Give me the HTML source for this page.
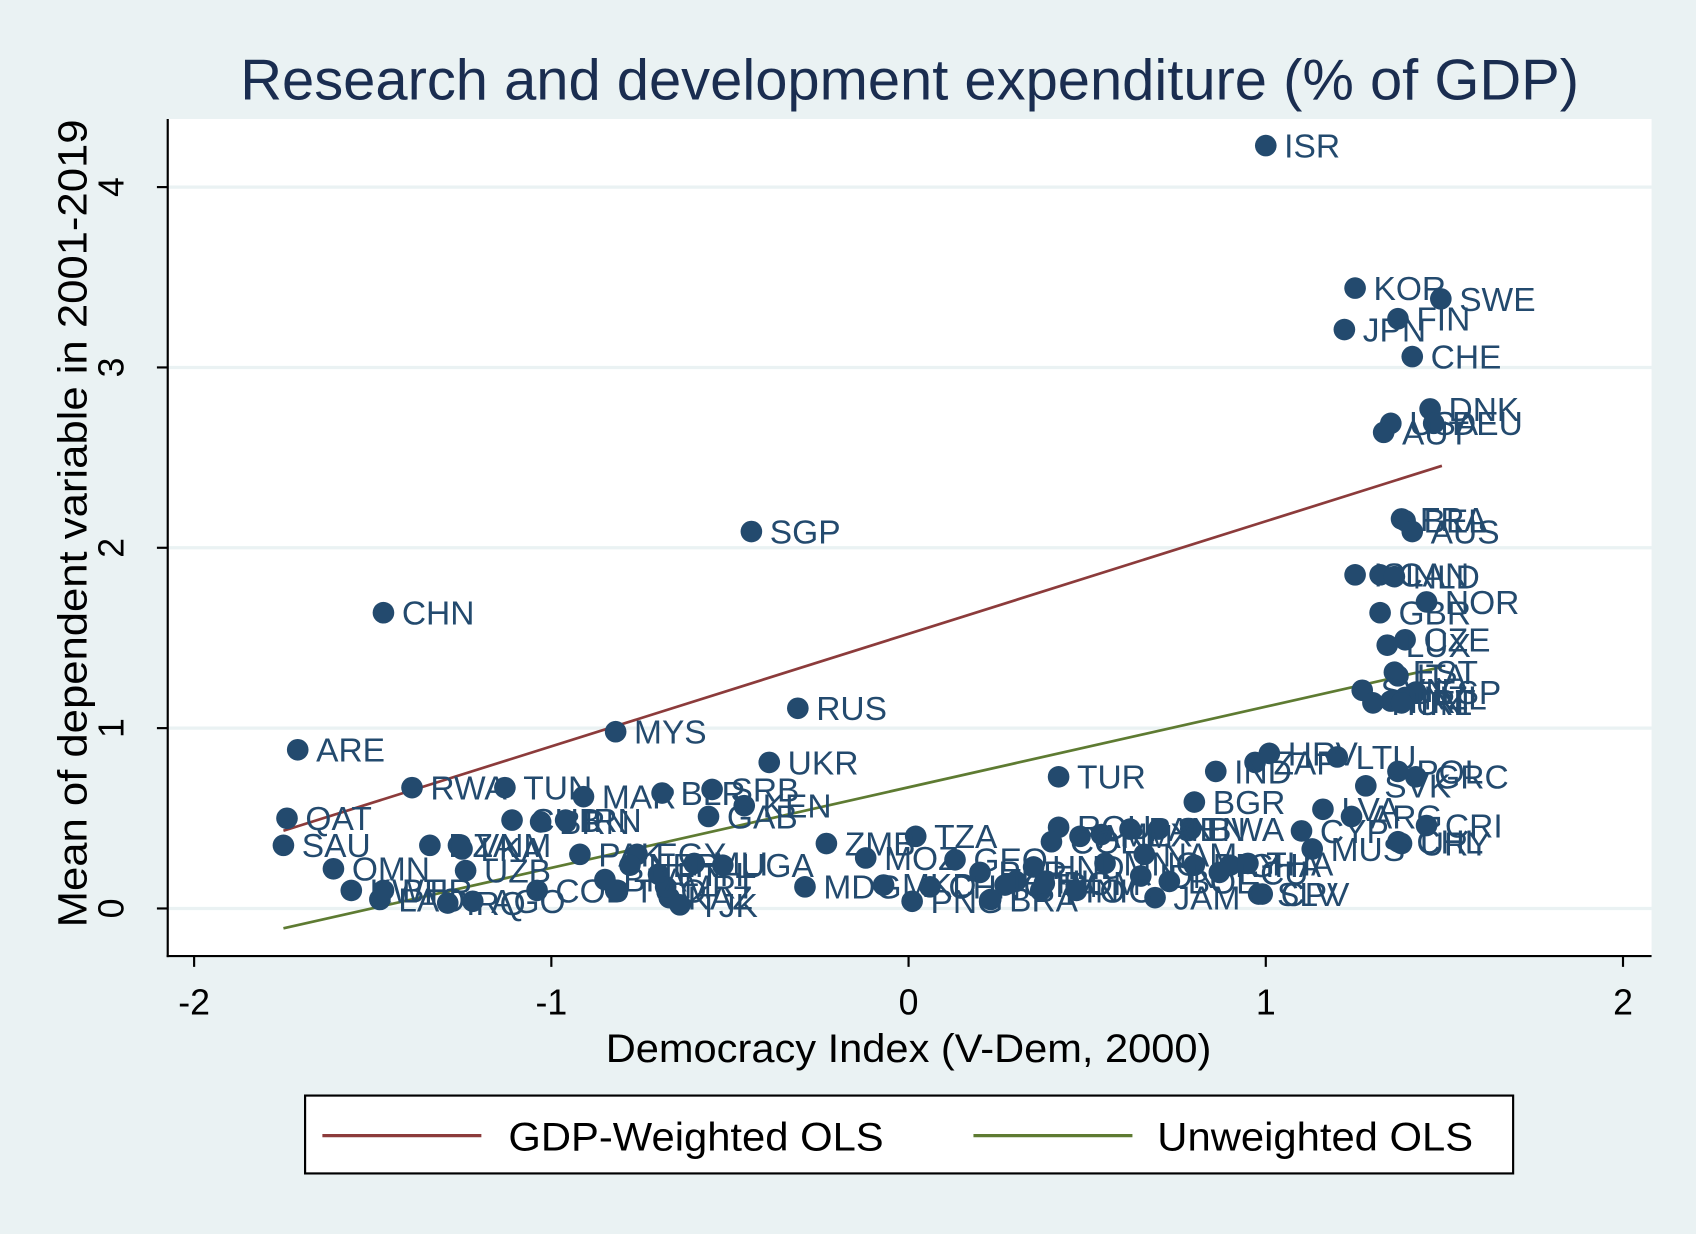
<!DOCTYPE html>
<html><head><meta charset="utf-8">
<style>
html,body{margin:0;padding:0;background:#EAF2F3;}
svg{display:block;font-family:"Liberation Sans",Arial,sans-serif;}
</style></head>
<body>
<svg id="chart" width="1696" height="1234" viewBox="0 0 1568 1141" xmlns="http://www.w3.org/2000/svg">
<rect x="0" y="0" width="1568" height="1141" fill="#EAF2F3"/>
<rect x="155" y="110" width="1372" height="774" fill="#ffffff"/>
<g id="grid"></g>
<g id="lines"></g>
<g id="points"></g>
<g id="axes"></g>
<text x="841" y="92" text-anchor="middle" font-size="53" fill="#1a2d50" textLength="1238" lengthAdjust="spacingAndGlyphs">Research and development expenditure (% of GDP)</text>
<text x="840" y="982" text-anchor="middle" font-size="37" fill="#000" textLength="560" lengthAdjust="spacingAndGlyphs">Democracy Index (V-Dem, 2000)</text>
<text transform="translate(80,484) rotate(-90)" text-anchor="middle" font-size="38" fill="#000" textLength="747" lengthAdjust="spacingAndGlyphs">Mean of dependent variable in 2001-2019</text>
<g>
<rect x="282" y="1013" width="1117" height="72" fill="#fff" stroke="#000" stroke-width="2"/>
<line x1="298" y1="1050" x2="445" y2="1050" stroke="#8C3B3B" stroke-width="3"/>
<text x="470" y="1064" font-size="37" textLength="347" lengthAdjust="spacingAndGlyphs">GDP-Weighted OLS</text>
<line x1="900" y1="1050" x2="1047" y2="1050" stroke="#5E7B32" stroke-width="3"/>
<text x="1070" y="1064" font-size="37" textLength="292" lengthAdjust="spacingAndGlyphs">Unweighted OLS</text>
</g>
</svg>
<script>
const labels=["ISR","KOR","SWE","FIN","JPN","CHE","DNK","USA","DEU","AUT","FRA","BEL","AUS","SGP","ISL","CAN","NLD","NOR","GBR","CHN","CZE","LUX","EST","ITA","SVN","ESP","NZL","HUN","PRT","IRL","RUS","MYS","ARE","UKR","HRV","LTU","ZAF","IND","POL","GRC","TUR","SVK","RWA","TUN","MAR","BLR","SRB","KEN","GAB","BGR","LVA","ARG","CRI","QAT","CUB","BRN","IRN","SAU","DZA","VNM","LKA","PAK","BWA","SEN","ROU","MEX","CYP","MUS","URY","CHL","OMN","KWT","LAO","BHR","IRQ","AGO","UZB","COD","TGO","EGY","KAZ","TJK","ETH","MLI","MRT","NER","BFA","UGA","TZA","MOZ","ZMB","MDG","MKD","GEO","PER","PHL","TTO","ARM","MNG","PAN","NAM","BOL","PRY","GHA","THA","SLV","PNG","CHN2","IDN","JAM","ECU","COL","BRA","GTM","HND","DOM","NIC","CPV"];
const xVals=[1.00,1.25,1.49,1.37,1.22,1.41,1.46,1.35,1.47,1.33,1.38,1.39,1.41,-0.44,1.25,1.32,1.36,1.45,1.32,-1.47,1.39,1.34,1.36,1.37,1.27,1.42,1.39,1.30,1.35,1.38,-0.31,-0.82,-1.71,-0.39,1.01,1.20,0.97,0.86,1.37,1.42,0.42,1.28,-1.39,-1.13,-0.91,-0.69,-0.55,-0.46,-0.56,0.80,1.16,1.24,1.45,-1.74,-1.11,-1.03,-0.96,-1.75,-1.34,-1.26,-1.25,-0.92,0.79,0.70,0.42,0.54,1.10,1.13,1.38,1.37,-1.61,-1.56,-1.48,-1.47,-1.29,-1.22,-1.24,-1.04,-0.82,-0.76,-0.67,-0.64,-0.70,-0.60,-0.68,-0.78,-0.85,-0.52,0.02,-0.12,-0.23,-0.29,-0.07,0.13,0.20,0.30,0.37,0.48,0.55,0.62,0.66,0.73,0.80,0.90,0.95,0.98,0.01,0.06,0.65,0.69,0.87,0.40,0.23,0.27,0.35,0.38,0.47,0.99];
const yVals=[4.23,3.44,3.38,3.27,3.21,3.06,2.77,2.69,2.69,2.64,2.16,2.15,2.09,2.09,1.85,1.85,1.84,1.70,1.64,1.64,1.49,1.46,1.31,1.29,1.21,1.20,1.17,1.14,1.15,1.14,1.11,0.98,0.88,0.81,0.86,0.84,0.81,0.76,0.76,0.73,0.73,0.68,0.67,0.67,0.62,0.64,0.66,0.57,0.51,0.59,0.55,0.51,0.46,0.50,0.49,0.48,0.49,0.35,0.35,0.35,0.33,0.30,0.44,0.44,0.45,0.41,0.43,0.33,0.36,0.37,0.22,0.10,0.05,0.10,0.03,0.04,0.21,0.10,0.10,0.30,0.06,0.02,0.19,0.25,0.12,0.24,0.16,0.24,0.40,0.28,0.36,0.12,0.13,0.27,0.20,0.15,0.10,0.40,0.25,0.44,0.30,0.15,0.24,0.24,0.25,0.08,0.04,0.12,0.18,0.06,0.20,0.37,0.05,0.13,0.23,0.14,0.10,0.08];
const yTicks=[0,1,2,3,4];
const xTicks=[-2,-1,0,1,2];
const xRange=[-1.75,1.493];
const wCoef=[1.523,0.624];
const uCoef=[0.672,0.447];

const NS="http://www.w3.org/2000/svg";
const X=v=>840+v*330.3;
const Y=v=>840-v*166.75;
function mk(tag,attrs,parent){const e=document.createElementNS(NS,tag);for(const k in attrs)e.setAttribute(k,attrs[k]);parent.appendChild(e);return e;}
const grid=document.getElementById('grid'),axes=document.getElementById('axes'),lines=document.getElementById('lines'),pts=document.getElementById('points');
yTicks.forEach(t=>{
  const g=mk('line',{x1:155,x2:1527,y1:Y(t),y2:Y(t),stroke:'#EAF2F3','stroke-width':3},grid);
  
  
  const tk=mk('line',{x1:145,x2:155,y1:Y(t),y2:Y(t),stroke:'#000','stroke-width':2},axes);
  
  
  const lb=mk('text',{transform:`translate(114,${Y(t)}) rotate(-90)`,'text-anchor':'middle','font-size':33},axes);
  lb.textContent=t;
  
  
});
xTicks.forEach(t=>{
  const tk=mk('line',{x1:X(t),x2:X(t),y1:884,y2:894,stroke:'#000','stroke-width':2},axes);
  
  
  const lb=mk('text',{x:X(t),y:938,'text-anchor':'middle','font-size':33},axes);
  lb.textContent=t;
  
  
});
const ax1=mk('line',{x1:155,x2:155,y1:110,y2:885,stroke:'#000','stroke-width':2},axes);


const ax2=mk('line',{x1:154,x2:1527,y1:884,y2:884,stroke:'#000','stroke-width':2},axes);


[[wCoef,'#8C3B3B','gdp-weighted-ols-line'],[uCoef,'#5E7B32','unweighted-ols-line']].forEach(([c,col,n])=>{
  const l=mk('line',{x1:X(xRange[0]),y1:Y(c[0]+c[1]*xRange[0]),x2:X(xRange[1]),y2:Y(c[0]+c[1]*xRange[1]),stroke:col,'stroke-width':2.5},lines);
  
  
});
labels.forEach((lab,i)=>{
  const name=lab.replace(/\d/g,'');
  const c=mk('circle',{cx:X(xVals[i]),cy:Y(yVals[i]),r:10,fill:'#234A6E'},pts);
  
  
  const t=mk('text',{x:X(xVals[i])+17,y:Y(yVals[i])+11,'font-size':31,fill:'#234A6E'},pts);
  t.textContent=name;
  
  
});
</script>
</body></html>
